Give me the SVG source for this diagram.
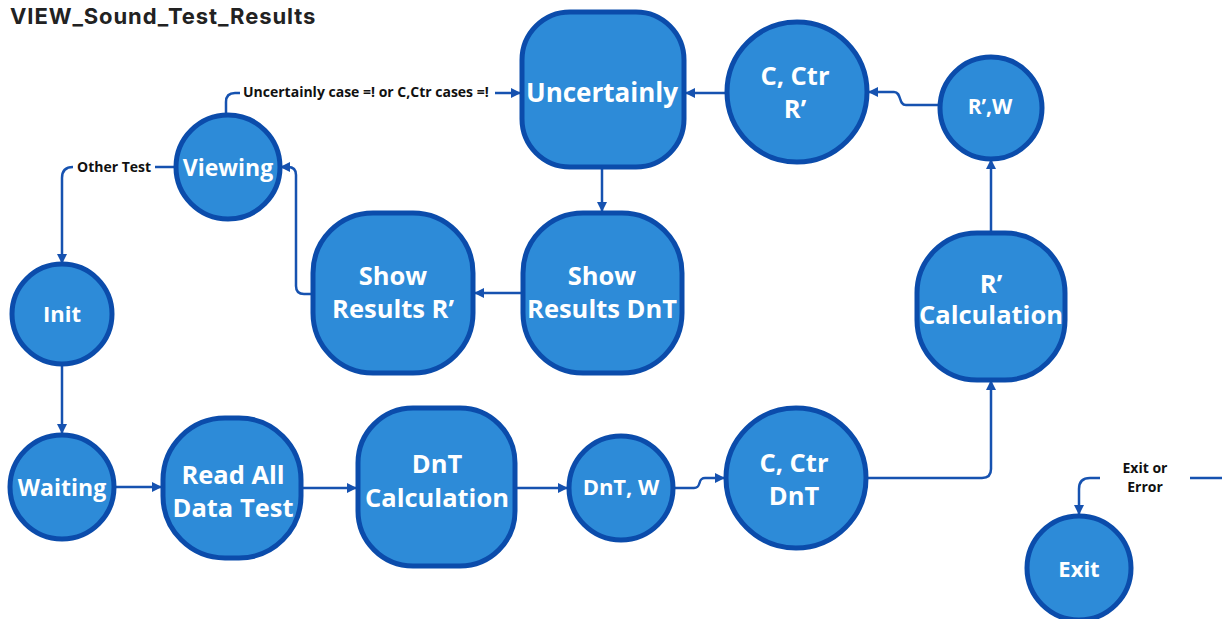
<svg xmlns="http://www.w3.org/2000/svg" width="1222" height="619" viewBox="0 0 1222 619">
<style>
.n{fill:#2d8bd8;stroke:#0b4cab;stroke-width:5}
.t{font-family:"Open Sans","Noto Sans",sans-serif;font-weight:700;fill:#ffffff;text-anchor:middle}
.c{fill:none;stroke:#1652b0;stroke-width:2.5}
.l{font-family:"Open Sans","Noto Sans",sans-serif;font-weight:700;fill:#111111;font-size:14px}
</style>
<defs>
<marker id="a" viewBox="0 0 10 10" refX="9" refY="5" markerWidth="10" markerHeight="10" markerUnits="userSpaceOnUse" orient="auto">
<path d="M0,0 L10,5 L0,10 z" fill="#1652b0"/>
</marker>
</defs>
<rect width="1222" height="619" fill="#ffffff"/>
<text x="10" y="24" font-family="Inter,'Noto Sans',sans-serif" font-weight="700" font-size="22" letter-spacing="0.9" fill="#222222">VIEW_Sound_Test_Results</text>

<g id="connectors">
<path class="c" d="M226,114 V102 Q226,93 235,93 H240"/>
<path class="c" d="M495,93 H520" marker-end="url(#a)"/>
<path class="c" d="M176,167 H155"/>
<path class="c" d="M73,167 Q62,167 62,178 V263" marker-end="url(#a)"/>
<path class="c" d="M313,294 H304 Q296,294 296,286 V175 Q296,167 288,167 H281" marker-end="url(#a)"/>
<path class="c" d="M602,167 V211" marker-end="url(#a)"/>
<path class="c" d="M523,293 H475" marker-end="url(#a)"/>
<path class="c" d="M727,93 H686" marker-end="url(#a)"/>
<path class="c" d="M940,105 H906 C898,105 902,92 894,92 H869" marker-end="url(#a)"/>
<path class="c" d="M991,233 V160" marker-end="url(#a)"/>
<path class="c" d="M866,478 H982 Q991,478 991,469 V381" marker-end="url(#a)"/>
<path class="c" d="M673,488 H694 C702,488 697,478 705,478 H724" marker-end="url(#a)"/>
<path class="c" d="M515,488 H567" marker-end="url(#a)"/>
<path class="c" d="M300,488 H356" marker-end="url(#a)"/>
<path class="c" d="M114,487 H161" marker-end="url(#a)"/>
<path class="c" d="M62,364 V433" marker-end="url(#a)"/>
<path class="c" d="M1190,478 H1222"/>
<path class="c" d="M1100,478 H1090 Q1079,478 1079,489 V514" marker-end="url(#a)"/>
<text class="l" x="243" y="97">Uncertainly case =! or C,Ctr cases =!</text>
<text class="l" x="77" y="172">Other Test</text>
<text class="l" x="1145" y="473" text-anchor="middle">Exit or</text>
<text class="l" x="1145" y="492" text-anchor="middle">Error</text>
</g>

<g id="uncertainly">
<rect class="n" x="522" y="12" width="162" height="155" rx="48"/>
<text class="t" x="602" y="102" font-size="26">Uncertainly</text>
</g>
<g id="cctr-r">
<circle class="n" cx="797" cy="92" r="70"/>
<text class="t" x="795" y="85" font-size="25.5">C, Ctr</text>
<text class="t" x="795" y="118" font-size="25.5">R’</text>
</g>
<g id="rw">
<circle class="n" cx="991" cy="108" r="51"/>
<text class="t" x="990" y="114" font-size="21">R’,W</text>
</g>
<g id="viewing">
<circle class="n" cx="228" cy="167" r="52"/>
<text class="t" x="228" y="176" font-size="23">Viewing</text>
</g>
<g id="show-r">
<rect class="n" x="313" y="213" width="160" height="160" rx="60"/>
<text class="t" x="393" y="285" font-size="25.5">Show</text>
<text class="t" x="393" y="318" font-size="25.5">Results R’</text>
</g>
<g id="show-dnt">
<rect class="n" x="523" y="213" width="159" height="160" rx="60"/>
<text class="t" x="602" y="285" font-size="25.5">Show</text>
<text class="t" x="602" y="318" font-size="25.5">Results DnT</text>
</g>
<g id="r-calc">
<rect class="n" x="917" y="233" width="148" height="147" rx="60"/>
<text class="t" x="991" y="293" font-size="25.5">R’</text>
<text class="t" x="991" y="324" font-size="25.5">Calculation</text>
</g>
<g id="init">
<circle class="n" cx="62" cy="314" r="50"/>
<text class="t" x="62" y="322" font-size="22">Init</text>
</g>
<g id="waiting">
<circle class="n" cx="62" cy="487" r="52"/>
<text class="t" x="62" y="496" font-size="23">Waiting</text>
</g>
<g id="read-all">
<rect class="n" x="163" y="418" width="138" height="140" rx="62"/>
<text class="t" x="233" y="484" font-size="25.5">Read All</text>
<text class="t" x="233" y="517" font-size="25.5">Data Test</text>
</g>
<g id="dnt-calc">
<rect class="n" x="358" y="408" width="157" height="158" rx="55"/>
<text class="t" x="437" y="473" font-size="25.5">DnT</text>
<text class="t" x="437" y="507" font-size="25.5">Calculation</text>
</g>
<g id="dnt-w">
<circle class="n" cx="621" cy="488" r="52"/>
<text class="t" x="621" y="495" font-size="22">DnT, W</text>
</g>
<g id="cctr-dnt">
<circle class="n" cx="796" cy="478" r="70"/>
<text class="t" x="794" y="472" font-size="25.5">C, Ctr</text>
<text class="t" x="794" y="505" font-size="25.5">DnT</text>
</g>
<g id="exit">
<circle class="n" cx="1079" cy="568" r="52"/>
<text class="t" x="1079" y="577" font-size="22">Exit</text>
</g>
</svg>
